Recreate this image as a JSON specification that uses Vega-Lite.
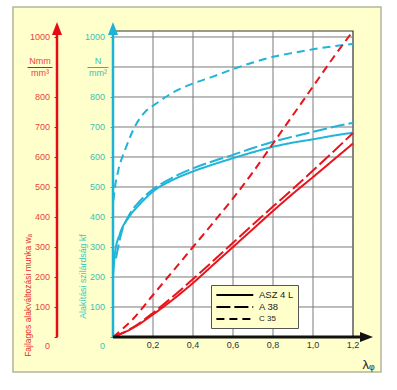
{
  "$schema": "https://vega.github.io/schema/vega-lite/v6.json",
  "width": 368,
  "height": 365,
  "autosize": {"type": "none"},
  "padding": {"left": 13, "top": 7, "right": 16, "bottom": 18},
  "background": "white",
  "config": {
    "view": {"fill": "#ffffcc", "stroke": "#b4b4a0", "strokeWidth": 1.5},
    "font": "Liberation Sans"
  },
  "data": {"values": [{}]},
  "datasets": {
    "curves": [
      {"q": "kf", "m": "ASZ 4 L", "x": 0, "y": 200},
      {"q": "kf", "m": "ASZ 4 L", "x": 0.01, "y": 280},
      {"q": "kf", "m": "ASZ 4 L", "x": 0.035, "y": 345},
      {"q": "kf", "m": "ASZ 4 L", "x": 0.08, "y": 400},
      {"q": "kf", "m": "ASZ 4 L", "x": 0.13, "y": 440},
      {"q": "kf", "m": "ASZ 4 L", "x": 0.2, "y": 485},
      {"q": "kf", "m": "ASZ 4 L", "x": 0.3, "y": 524},
      {"q": "kf", "m": "ASZ 4 L", "x": 0.4, "y": 552},
      {"q": "kf", "m": "ASZ 4 L", "x": 0.5, "y": 575},
      {"q": "kf", "m": "ASZ 4 L", "x": 0.6, "y": 596},
      {"q": "kf", "m": "ASZ 4 L", "x": 0.7, "y": 616},
      {"q": "kf", "m": "ASZ 4 L", "x": 0.8, "y": 634},
      {"q": "kf", "m": "ASZ 4 L", "x": 0.9, "y": 648},
      {"q": "kf", "m": "ASZ 4 L", "x": 1.0, "y": 659},
      {"q": "kf", "m": "ASZ 4 L", "x": 1.1, "y": 671},
      {"q": "kf", "m": "ASZ 4 L", "x": 1.2, "y": 681},
      {"q": "kf", "m": "A 38", "x": 0.015, "y": 262},
      {"q": "kf", "m": "A 38", "x": 0.04, "y": 342},
      {"q": "kf", "m": "A 38", "x": 0.08, "y": 406},
      {"q": "kf", "m": "A 38", "x": 0.13, "y": 450},
      {"q": "kf", "m": "A 38", "x": 0.2, "y": 492},
      {"q": "kf", "m": "A 38", "x": 0.3, "y": 532},
      {"q": "kf", "m": "A 38", "x": 0.4, "y": 562},
      {"q": "kf", "m": "A 38", "x": 0.5, "y": 586},
      {"q": "kf", "m": "A 38", "x": 0.6, "y": 607},
      {"q": "kf", "m": "A 38", "x": 0.7, "y": 630},
      {"q": "kf", "m": "A 38", "x": 0.8, "y": 651},
      {"q": "kf", "m": "A 38", "x": 0.9, "y": 668},
      {"q": "kf", "m": "A 38", "x": 1.0, "y": 684},
      {"q": "kf", "m": "A 38", "x": 1.1, "y": 700},
      {"q": "kf", "m": "A 38", "x": 1.2, "y": 714},
      {"q": "kf", "m": "C 35", "x": 0.002, "y": 455},
      {"q": "kf", "m": "C 35", "x": 0.01, "y": 500},
      {"q": "kf", "m": "C 35", "x": 0.027, "y": 557},
      {"q": "kf", "m": "C 35", "x": 0.06, "y": 623},
      {"q": "kf", "m": "C 35", "x": 0.118, "y": 712},
      {"q": "kf", "m": "C 35", "x": 0.16, "y": 750},
      {"q": "kf", "m": "C 35", "x": 0.218, "y": 779},
      {"q": "kf", "m": "C 35", "x": 0.3, "y": 815},
      {"q": "kf", "m": "C 35", "x": 0.4, "y": 845},
      {"q": "kf", "m": "C 35", "x": 0.5, "y": 868},
      {"q": "kf", "m": "C 35", "x": 0.6, "y": 893},
      {"q": "kf", "m": "C 35", "x": 0.7, "y": 915},
      {"q": "kf", "m": "C 35", "x": 0.8, "y": 934},
      {"q": "kf", "m": "C 35", "x": 0.9, "y": 947},
      {"q": "kf", "m": "C 35", "x": 1.0, "y": 959},
      {"q": "kf", "m": "C 35", "x": 1.1, "y": 969},
      {"q": "kf", "m": "C 35", "x": 1.2, "y": 977},
      {"q": "wa", "m": "ASZ 4 L", "x": 0, "y": 0},
      {"q": "wa", "m": "ASZ 4 L", "x": 0.1, "y": 30},
      {"q": "wa", "m": "ASZ 4 L", "x": 0.2, "y": 75},
      {"q": "wa", "m": "ASZ 4 L", "x": 0.3, "y": 125},
      {"q": "wa", "m": "ASZ 4 L", "x": 0.4, "y": 180},
      {"q": "wa", "m": "ASZ 4 L", "x": 0.5, "y": 240},
      {"q": "wa", "m": "ASZ 4 L", "x": 0.6, "y": 300},
      {"q": "wa", "m": "ASZ 4 L", "x": 0.7, "y": 360},
      {"q": "wa", "m": "ASZ 4 L", "x": 0.8, "y": 420},
      {"q": "wa", "m": "ASZ 4 L", "x": 0.9, "y": 478},
      {"q": "wa", "m": "ASZ 4 L", "x": 1.0, "y": 533},
      {"q": "wa", "m": "ASZ 4 L", "x": 1.1, "y": 589},
      {"q": "wa", "m": "ASZ 4 L", "x": 1.2, "y": 645},
      {"q": "wa", "m": "A 38", "x": 0, "y": 0},
      {"q": "wa", "m": "A 38", "x": 0.1, "y": 32},
      {"q": "wa", "m": "A 38", "x": 0.2, "y": 80},
      {"q": "wa", "m": "A 38", "x": 0.3, "y": 135},
      {"q": "wa", "m": "A 38", "x": 0.4, "y": 193},
      {"q": "wa", "m": "A 38", "x": 0.5, "y": 253},
      {"q": "wa", "m": "A 38", "x": 0.6, "y": 314},
      {"q": "wa", "m": "A 38", "x": 0.7, "y": 375},
      {"q": "wa", "m": "A 38", "x": 0.8, "y": 435},
      {"q": "wa", "m": "A 38", "x": 0.9, "y": 494},
      {"q": "wa", "m": "A 38", "x": 1.0, "y": 555},
      {"q": "wa", "m": "A 38", "x": 1.1, "y": 617},
      {"q": "wa", "m": "A 38", "x": 1.2, "y": 680},
      {"q": "wa", "m": "C 35", "x": 0, "y": 0},
      {"q": "wa", "m": "C 35", "x": 0.1, "y": 60},
      {"q": "wa", "m": "C 35", "x": 0.2, "y": 140},
      {"q": "wa", "m": "C 35", "x": 0.3, "y": 220},
      {"q": "wa", "m": "C 35", "x": 0.4, "y": 300},
      {"q": "wa", "m": "C 35", "x": 0.5, "y": 380},
      {"q": "wa", "m": "C 35", "x": 0.6, "y": 462},
      {"q": "wa", "m": "C 35", "x": 0.7, "y": 550},
      {"q": "wa", "m": "C 35", "x": 0.8, "y": 645},
      {"q": "wa", "m": "C 35", "x": 0.9, "y": 740},
      {"q": "wa", "m": "C 35", "x": 1.0, "y": 835},
      {"q": "wa", "m": "C 35", "x": 1.1, "y": 930},
      {"q": "wa", "m": "C 35", "x": 1.2, "y": 1020}
    ],
    "xgrid": [{"v": 0.2}, {"v": 0.4}, {"v": 0.6}, {"v": 0.8}, {"v": 1.0}],
    "ygrid": [{"v": 100}, {"v": 200}, {"v": 300}, {"v": 400}, {"v": 500}, {"v": 600}, {"v": 700}, {"v": 800}, {"v": 900}, {"v": 1000}],
    "xlabels": [{"v": 0.2, "t": "0,2"}, {"v": 0.4, "t": "0,4"}, {"v": 0.6, "t": "0,6"}, {"v": 0.8, "t": "0,8"}, {"v": 1.0, "t": "1,0"}, {"v": 1.2, "t": "1,2"}]
  },
  "resolve": {"axis": {"y": "independent"}},
  "layer": [
    {
      "mark": {"type": "rect", "fill": "white", "stroke": "#333333", "strokeWidth": 1.2},
      "encoding": {
        "x": {"datum": 0, "type": "quantitative", "scale": {"domain": [-0.5, 1.34], "nice": false, "zero": false}, "axis": null},
        "x2": {"datum": 1.2},
        "y": {"datum": 0, "type": "quantitative", "scale": {"domain": [-116.67, 1100], "nice": false, "zero": false}, "axis": null},
        "y2": {"datum": 1020}
      }
    },
    {
      "data": {"name": "xgrid"},
      "mark": {"type": "rule", "color": "#7a7a7a", "strokeWidth": 1},
      "encoding": {
        "x": {"field": "v", "type": "quantitative", "axis": null},
        "y": {"datum": 0, "type": "quantitative", "axis": null},
        "y2": {"datum": 1020}
      }
    },
    {
      "data": {"name": "ygrid"},
      "mark": {"type": "rule", "color": "#7a7a7a", "strokeWidth": 1},
      "encoding": {
        "y": {"field": "v", "type": "quantitative", "axis": null},
        "x": {"datum": 0, "type": "quantitative", "axis": null},
        "x2": {"datum": 1.2}
      }
    },
    {
      "data": {"name": "curves"},
      "mark": {"type": "line", "strokeWidth": 2, "interpolate": "monotone"},
      "encoding": {
        "x": {"field": "x", "type": "quantitative", "axis": null},
        "y": {
          "field": "y", "type": "quantitative",
          "axis": {
            "orient": "left", "offset": -100, "domain": false, "grid": false,
            "values": [0, 100, 200, 300, 400, 500, 600, 700, 800, 900, 1000],
            "tickSize": {"condition": {"test": "datum.value == 900", "value": 26}, "value": 3},
            "tickDash": {"condition": {"test": "datum.value == 900", "value": [0, 5, 21, 100]}, "value": []},
            "tickColor": "#1db3d7",
            "labelExpr": "datum.value == 900 ? ['N', 'mm²'] : format(datum.value, 'd')",
            "labelColor": "#3cbfb0", "labelFont": "Liberation Sans Narrow, Liberation Sans, sans-serif", "labelFontSize": 9,
            "labelPadding": {"condition": {"test": "datum.value == 900", "value": -10.5}, "value": 5.5},
            "labelAlign": {"condition": {"test": "datum.value == 900", "value": "center"}, "value": "right"},
            "labelOffset": {"condition": [{"test": "datum.value == 0", "value": 9}, {"test": "datum.value == 900", "value": -6}], "value": 0},
            "labelLineHeight": 12, "labelFlush": false, "labelOverlap": false,
            "title": "Alakítási szilárdság kf", "titleColor": "#3cc8c0", "titleFont": "Liberation Sans Narrow, Liberation Sans, sans-serif",
            "titleFontSize": 8.8, "titleFontWeight": "normal", "titleAngle": 270,
            "titleX": -31, "titleY": 269, "titleAlign": "center", "titleBaseline": "middle"
          }
        },
        "color": {
          "field": "q", "type": "nominal",
          "scale": {"domain": ["wa", "kf"], "range": ["#e8141c", "#1fb4d8"]},
          "legend": null
        },
        "strokeDash": {
          "field": "m", "type": "nominal",
          "scale": {"domain": ["ASZ 4 L", "A 38", "C 35"], "range": [[1, 0], [14, 4], [8, 5]]},
          "legend": {
            "orient": "none", "legendX": 198, "legendY": 278, "title": null,
            "symbolType": "M-1,0H7", "symbolSize": 85, "symbolStrokeWidth": 2.2, "symbolStrokeColor": "black",
            "labelFont": "Liberation Sans, sans-serif", "labelFontSize": 9.5, "labelColor": "#222222", "labelOffset": 32,
            "padding": 4, "fillColor": "#ffffcc", "strokeColor": "#555555", "rowPadding": 1,
            "encode": {"labels": {"update": {"fontSize": {"signal": "datum.value == 'C 35' ? 8 : 9.5"}}}}
          }
        }
      }
    },
    {
      "mark": {"type": "rule", "color": "#e50c14", "strokeWidth": 2.5},
      "encoding": {
        "x": {"datum": -0.28, "type": "quantitative", "axis": null},
        "y": {
          "datum": 0, "type": "quantitative",
          "axis": {
            "orient": "left", "offset": -44, "domain": false, "grid": false,
            "values": [0, 100, 200, 300, 400, 500, 600, 700, 800, 900, 1000],
            "tickSize": {"condition": {"test": "datum.value == 900", "value": 30}, "value": 3},
            "tickDash": {"condition": {"test": "datum.value == 900", "value": [0, 5, 25, 100]}, "value": []},
            "tickColor": "#e50c14",
            "labelExpr": "datum.value == 900 ? ['Nmm', 'mm³'] : format(datum.value, 'd')",
            "labelColor": "#e8463c", "labelFont": "Liberation Sans Narrow, Liberation Sans, sans-serif", "labelFontSize": 9,
            "labelPadding": {"condition": {"test": "datum.value == 900", "value": -12.5}, "value": 4.5},
            "labelAlign": {"condition": {"test": "datum.value == 900", "value": "center"}, "value": "right"},
            "labelOffset": {"condition": [{"test": "datum.value == 0", "value": 9}, {"test": "datum.value == 900", "value": -6}], "value": 0},
            "labelLineHeight": 12, "labelFlush": false, "labelOverlap": false,
            "title": "Fajlagos alakváltozási munka wₐ", "titleColor": "#e8302c", "titleFont": "Liberation Sans Narrow, Liberation Sans, sans-serif",
            "titleFontSize": 8.5, "titleFontWeight": "normal", "titleAngle": 270,
            "titleX": -30, "titleY": 288, "titleAlign": "center", "titleBaseline": "middle"
          }
        },
        "y2": {"datum": 1030}
      }
    },
    {
      "mark": {"type": "rule", "color": "#1db3d7", "strokeWidth": 2.5},
      "encoding": {
        "x": {"datum": 0, "type": "quantitative", "axis": null},
        "y": {"datum": 0, "type": "quantitative", "axis": null},
        "y2": {"datum": 1030}
      }
    },
    {
      "mark": {"type": "rule", "color": "#111111", "strokeWidth": 3},
      "encoding": {
        "y": {"datum": 0, "type": "quantitative", "axis": null},
        "x": {"datum": 0, "type": "quantitative", "axis": null},
        "x2": {"datum": 1.27}
      }
    },
    {
      "data": {"name": "xlabels"},
      "mark": {"type": "text", "baseline": "top", "align": "center", "dy": 4, "fontSize": 9, "font": "Liberation Sans Narrow, Liberation Sans, sans-serif", "color": "#333333"},
      "encoding": {
        "x": {"field": "v", "type": "quantitative", "axis": null},
        "y": {"datum": 0, "type": "quantitative", "axis": null},
        "text": {"field": "t"}
      }
    },
    {
      "mark": {"type": "text", "baseline": "middle", "align": "center", "fontSize": 13, "color": "#222222"},
      "encoding": {
        "x": {"datum": 1.2775, "type": "quantitative", "axis": null},
        "y": {"datum": -93, "type": "quantitative", "axis": null},
        "text": {"value": "λᵩ"}
      }
    },
    {
      "mark": {"type": "point", "shape": "M0,-1L0.77,1L-0.77,1Z", "filled": true, "size": 169, "color": "#1db3d7", "opacity": 1},
      "encoding": {
        "x": {"datum": 0, "type": "quantitative", "axis": null},
        "y": {"datum": 1028, "type": "quantitative", "axis": null}
      }
    },
    {
      "mark": {"type": "point", "shape": "M0,-1L0.77,1L-0.77,1Z", "filled": true, "size": 169, "color": "#e50c14", "opacity": 1},
      "encoding": {
        "x": {"datum": -0.28, "type": "quantitative", "axis": null},
        "y": {"datum": 1028, "type": "quantitative", "axis": null}
      }
    },
    {
      "mark": {"type": "point", "shape": "M1,0L-1,-0.77L-1,0.77Z", "filled": true, "size": 169, "color": "#111111", "opacity": 1},
      "encoding": {
        "x": {"datum": 1.2675, "type": "quantitative", "axis": null},
        "y": {"datum": 0, "type": "quantitative", "axis": null}
      }
    }
  ]
}
